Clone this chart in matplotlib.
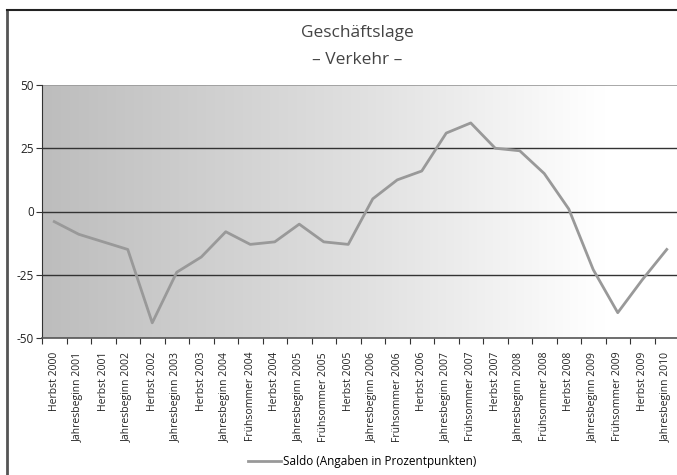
import numpy as np
import matplotlib.pyplot as plt
from matplotlib.lines import Line2D
from matplotlib.colors import LinearSegmentedColormap

categories = [
    "Herbst 2000", "Jahresbeginn 2001", "Herbst 2001", "Jahresbeginn 2002",
    "Herbst 2002", "Jahresbeginn 2003", "Herbst 2003", "Jahresbeginn 2004",
    "Frühsommer 2004", "Herbst 2004", "Jahresbeginn 2005", "Frühsommer 2005",
    "Herbst 2005", "Jahresbeginn 2006", "Frühsommer 2006", "Herbst 2006",
    "Jahresbeginn 2007", "Frühsommer 2007", "Herbst 2007", "Jahresbeginn 2008",
    "Frühsommer 2008", "Herbst 2008", "Jahresbeginn 2009", "Frühsommer 2009",
    "Herbst 2009", "Jahresbeginn 2010",
]
saldo = [-4, -9, -12, -15, -44, -24, -18, -8, -13, -12, -5, -12, -13,
         5, 12.5, 16, 31, 35, 25, 24, 15, 1, -23, -40, -27, -15]
y_ticks = [-50, -25, 0, 25, 50]

plt.rcParams["font.family"] = ["Open Sans", "DejaVu Sans"]

fig = plt.figure(figsize=(6.77, 4.75), dpi=100)
ax = fig.add_axes([42 / 677, 137 / 475, 637 / 677, 253 / 475])

n = len(categories)
x = np.arange(n)
ax.set_xlim(-0.5, n - 0.5)
ax.set_ylim(-50, 50)

# grey-to-white gradient background
bg_cmap = LinearSegmentedColormap.from_list(
    "bg", [(0, "#bdbdbd"), (0.5, "#e0e0e0"), (0.88, "#ffffff"), (1, "#ffffff")])
grad = np.linspace(0, 1, 256).reshape(1, -1)
ax.imshow(grad, cmap=bg_cmap, vmin=0, vmax=1, aspect="auto",
          extent=(-0.5, n - 0.5, -50, 50), zorder=0, interpolation="bicubic")

for v in [-25, 0, 25]:
    ax.axhline(v, color="#333333", lw=1, zorder=1)
ax.axhline(50, color="#999999", lw=1.2, zorder=1)

ax.plot(x, saldo, color="#999999", lw=2, zorder=3,
        label="Saldo (Angaben in Prozentpunkten)")

ax.set_yticks(y_ticks)
ax.set_yticklabels([str(v) for v in y_ticks], fontsize=8.5, color="#222222")
ax.set_xticks(np.arange(n + 1) - 0.5, minor=False)
ax.set_xticklabels([])
ax.set_xticks(x, minor=True)
ax.set_xticklabels(categories, minor=True, rotation=90, fontsize=7.5,
                   color="#222222", va="top")
ax.tick_params(axis="x", which="minor", length=0, pad=10)
ax.tick_params(axis="x", which="major", length=4, color="#333333", direction="out")
ax.tick_params(axis="y", length=4, color="#333333", pad=2)

for side in ["top", "right"]:
    ax.spines[side].set_visible(False)
ax.spines["left"].set_color("#333333")
ax.spines["bottom"].set_color("#555555")
ax.spines["bottom"].set_linewidth(1.2)

fig.text(357 / 677, 1 - 33 / 475, "Geschäftslage", ha="center", va="center",
         fontsize=12.5, color="#444444")
fig.text(357 / 677, 1 - 60 / 475, "– Verkehr –", ha="center", va="center",
         fontsize=12.5, color="#444444")

# outer frame (only left and top are visible)
fig.add_artist(Line2D([7 / 677, 7 / 677], [0, 1 - 10 / 475], color="#555555", lw=2))
fig.add_artist(Line2D([7 / 677, 1], [1 - 10 / 475, 1 - 10 / 475], color="#222222", lw=1.5))

fig.legend(loc="center", bbox_to_anchor=(0.535, 1 - 462 / 475), frameon=False,
           fontsize=8.5, handlelength=2.8, handletextpad=0.1)

fig.savefig("out.png", dpi=100)
